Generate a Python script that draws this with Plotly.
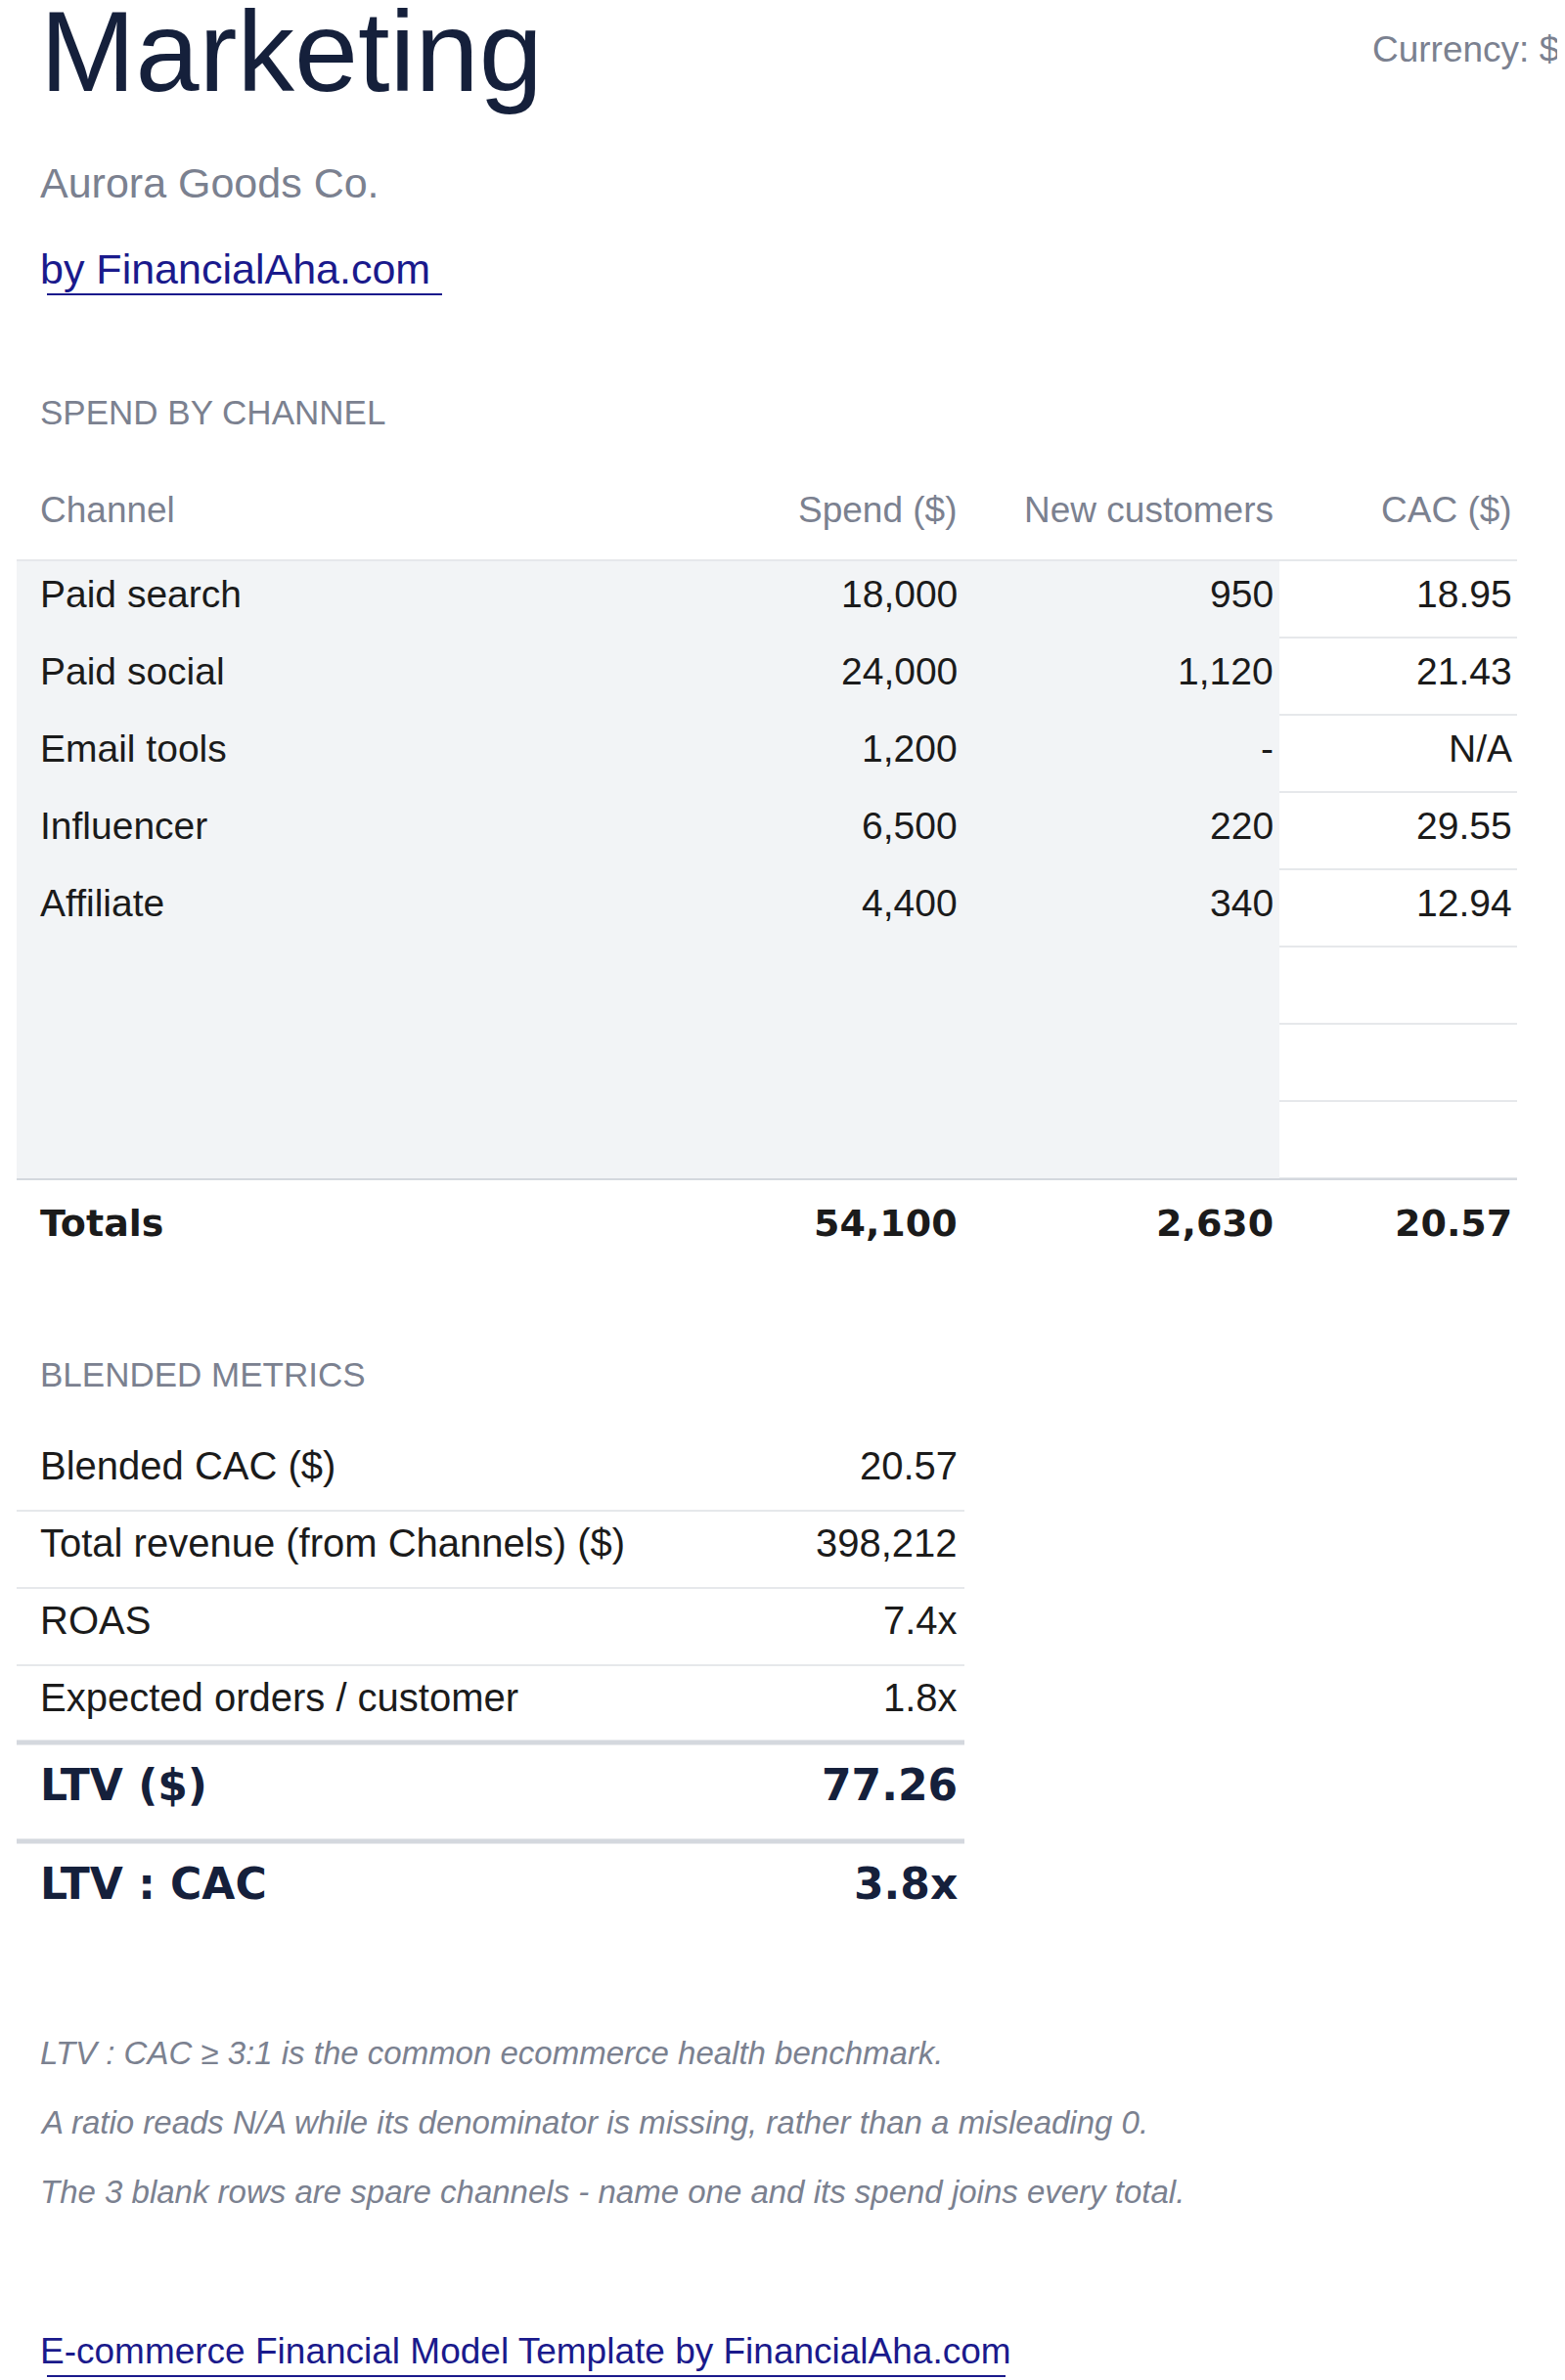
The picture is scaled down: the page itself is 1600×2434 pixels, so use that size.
import plotly.graph_objects as go

# spend by channel
channels = ["Paid search", "Paid social", "Email tools", "Influencer", "Affiliate"]
spend = ["18,000", "24,000", "1,200", "6,500", "4,400"]
new_customers = ["950", "1,120", "-", "220", "340"]
cac = ["18.95", "21.43", "N/A", "29.55", "12.94"]
headers = ["Channel", "Spend ($)", "New customers", "CAC ($)"]
totals = ["Totals", "54,100", "2,630", "20.57"]

# blended metrics
metric_names = ["Blended CAC ($)", "Total revenue (from Channels) ($)", "ROAS", "Expected orders / customer"]
metric_values = ["20.57", "398,212", "7.4x", "1.8x"]
key_names = ["LTV ($)", "LTV : CAC"]
key_values = ["77.26", "3.8x"]

notes = [
    "LTV : CAC \u2265 3:1 is the common ecommerce health benchmark.",
    "A ratio reads N/A while its denominator is missing, rather than a misleading 0.",
    "The 3 blank rows are spare channels - name one and its spend joins every total.",
]

W, H = 1600, 2434
NAVY = "#15203b"
GREY = "#7b8190"
DARK = "#1b1b1b"
LINK = "#1a1a8c"
FONT = "Liberation Sans, Arial, sans-serif"
BOLD = "DejaVu Sans, sans-serif"
DX, DY = -9, -8  # annotation padding offset

fig = go.Figure()
fig.add_trace(go.Scatter(x=[0, W], y=[0, H], mode="markers", marker=dict(opacity=0), hoverinfo="skip"))

ann = []
shapes = []


def text(x, y, s, size, color, anchor="left", family=FONT):
    dx = DX if anchor == "left" else 5
    ann.append(dict(x=x + dx, y=y + DY, text=s, showarrow=False, xanchor=anchor, yanchor="middle",
                    font=dict(size=size, color=color, family=family)))


def line(x0, x1, y, color="#e3e6ea", w=2):
    shapes.append(dict(type="line", x0=x0, x1=x1, y0=y, y1=y, line=dict(color=color, width=w)))


# header block
text(40, 52, "Marketing", 117, NAVY)
text(1583, 50, "Currency: $", 37, GREY, "right")
text(40, 187, "Aurora Goods Co.", 43, GREY)
text(40, 275, "by FinancialAha.com", 43, LINK)
line(40, 444, 293, LINK, 2)

# spend table
text(40, 421, "SPEND BY CHANNEL", 35, GREY)
col_x = [40, 968, 1291, 1535]
anchors = ["left", "right", "right", "right"]
for i, h in enumerate(headers):
    text(col_x[i], 521, h, 37, GREY, anchors[i])

shapes.append(dict(type="rect", x0=9, x1=1300, y0=565, y1=1198, fillcolor="#f2f4f6", line=dict(width=0), layer="below"))
line(9, 1543, 565, "#e6e8eb", 2)
row_h = 79
for r in range(8):
    line(1300, 1543, 565 + row_h * (r + 1), "#e6e8eb", 2)
for r, ch in enumerate(channels):
    y = 607 + r * row_h
    for i, v in enumerate([ch, spend[r], new_customers[r], cac[r]]):
        text(col_x[i], y, v, 39, DARK, anchors[i])
line(9, 1543, 1198, "#d4d8de", 2)
for i, v in enumerate(totals):
    text(col_x[i], 1251, "<b>" + v + "</b>", 38, DARK, anchors[i], BOLD)

# blended metrics
text(40, 1405, "BLENDED METRICS", 35, GREY)
for r, (n, v) in enumerate(zip(metric_names, metric_values)):
    y = 1499 + r * row_h
    text(40, y, n, 40, DARK)
    text(968, y, v, 40, DARK, "right")
    if r < 3:
        line(9, 978, y + 38, "#e6e8eb", 2)
line(9, 978, 1774, "#d4d8de", 5)
line(9, 978, 1875, "#d4d8de", 5)
for r, (n, v) in enumerate(zip(key_names, key_values)):
    y = 1825 + r * 101
    text(40, y, "<b>" + n + "</b>", 44, NAVY, family=BOLD)
    text(968, y, "<b>" + v + "</b>", 44, NAVY, "right", BOLD)

for r, n in enumerate(notes):
    text(40, 2099 + r * 71, "<i>" + n + "</i>", 33, GREY)

text(40, 2404, "E-commerce Financial Model Template by FinancialAha.com", 37, LINK)
line(40, 1020, 2422, LINK, 2)

fig.update_layout(
    width=W, height=H, margin=dict(l=0, r=0, t=0, b=0),
    paper_bgcolor="white", plot_bgcolor="white", showlegend=False,
    xaxis=dict(range=[0, W], visible=False, fixedrange=True),
    yaxis=dict(range=[H, 0], visible=False, fixedrange=True),
    annotations=ann, shapes=shapes,
)
fig.write_html("out.html", config={"displayModeBar": False})
